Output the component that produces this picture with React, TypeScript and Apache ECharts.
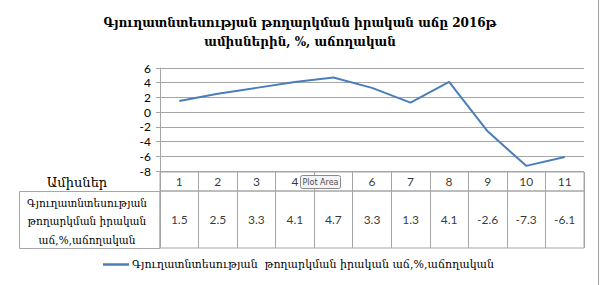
import React, { useEffect, useRef } from "react";
import * as echarts from "echarts";

const months = ["1", "2", "3", "4", "5", "6", "7", "8", "9", "10", "11"];
const growth = [1.5, 2.5, 3.3, 4.1, 4.7, 3.3, 1.3, 4.1, -2.6, -7.3, -6.1];
const seriesName = "Գյուղատնտեսության  թողարկման իրական աճ,%,աճողական";
const titleText = "Գյուղատնտեսության թողարկման իրական աճը 2016թ\nամիսներին, %, աճողական";
const headerLabel = "Ամիսներ";
const rowLabel = "Գյուղատնտեսության\nթողարկման իրական\nաճ,%,աճողական";

const ARM = "DejaVu Serif";
const NUM = "Lato";
const GRID_LEFT = 160;
const GRID_RIGHT = 16;

export default function App() {
  const ref = useRef<HTMLDivElement>(null);
  useEffect(() => {
    if (!ref.current) return;
    const chart = echarts.init(ref.current, undefined, { renderer: "svg" });
    const grey = "#a6a6a6";
    chart.setOption({
      animation: false,
      backgroundColor: "#fff",
      title: {
        text: titleText,
        left: "center",
        top: 8,
        textStyle: {
          fontFamily: ARM,
          fontWeight: "bold",
          fontSize: 12,
          lineHeight: 19,
          color: "#000",
        },
      },
      legend: {
        data: [seriesName],
        bottom: 10,
        left: 98,
        icon: "rect",
        itemWidth: 26,
        itemHeight: 2.5,
        itemGap: 4,
        textStyle: { fontFamily: ARM, fontSize: 11, color: "#000", padding: [0, 0, 0, -2] },
      },
      grid: [
        { left: GRID_LEFT, right: GRID_RIGHT, top: 68, height: 103 },
        {
          left: GRID_LEFT, right: GRID_RIGHT, top: 172, height: 19,
          show: true, borderColor: grey, borderWidth: 1,
        },
        {
          left: GRID_LEFT, right: GRID_RIGHT, top: 191, height: 57,
          show: true, borderColor: grey, borderWidth: 1,
        },
      ],
      xAxis: [
        {
          gridIndex: 0, type: "category", data: months, boundaryGap: true,
          axisLabel: { show: false }, axisTick: { show: false },
          axisLine: { show: true, lineStyle: { color: grey } },
        },
        {
          gridIndex: 1, type: "category", data: months, boundaryGap: true,
          axisLabel: { show: false }, axisTick: { show: false }, axisLine: { show: false },
          splitLine: { show: true, lineStyle: { color: grey, width: 1 } },
        },
        {
          gridIndex: 2, type: "category", data: months, boundaryGap: true,
          axisLabel: { show: false }, axisTick: { show: false }, axisLine: { show: false },
          splitLine: { show: true, lineStyle: { color: grey, width: 1 } },
        },
      ],
      yAxis: [
        {
          gridIndex: 0, type: "value", min: -8, max: 6, interval: 2,
          axisLine: { show: true, lineStyle: { color: grey } },
          axisTick: { show: true, length: 4, lineStyle: { color: grey } },
          splitLine: { show: true, lineStyle: { color: grey, width: 1 } },
          axisLabel: { fontFamily: NUM, fontSize: 12, color: "#000", margin: 9 },
        },
        { gridIndex: 1, type: "value", min: 0, max: 1, show: false },
        { gridIndex: 2, type: "value", min: 0, max: 1, show: false },
      ],
      series: [
        {
          name: seriesName,
          type: "line",
          xAxisIndex: 0, yAxisIndex: 0,
          data: growth,
          symbol: "none",
          showSymbol: false,
          lineStyle: { color: "#4A7EBB", width: 2 },
          itemStyle: { color: "#4A7EBB" },
        },
        {
          type: "scatter", xAxisIndex: 1, yAxisIndex: 1,
          data: months.map((m) => [m, 0.5]),
          symbolSize: 1, itemStyle: { color: "transparent" }, silent: true,
          label: {
            show: true, position: "inside", color: "#000",
            fontFamily: NUM, fontSize: 12,
            formatter: (p: any) => months[p.dataIndex],
          },
        },
        {
          type: "scatter", xAxisIndex: 2, yAxisIndex: 2,
          data: growth.map((v, i) => [months[i], 0.5, v]),
          symbolSize: 1, itemStyle: { color: "transparent" }, silent: true,
          label: {
            show: true, position: "inside", color: "#000",
            fontFamily: NUM, fontSize: 12,
            formatter: (p: any) => String(p.data[2]),
          },
        },
      ],
      graphic: [
        {
          type: "rect", z: 10,
          shape: { x: 19.5, y: 191.5, width: GRID_LEFT - 19.5, height: 57 },
          style: { fill: "none", stroke: grey, lineWidth: 1 },
        },
        {
          type: "text", z: 10, x: 77, y: 182,
          style: {
            text: headerLabel, fontFamily: ARM, fontSize: 13, fill: "#000",
            align: "center", verticalAlign: "middle",
          },
        },
        {
          type: "text", z: 10, x: 87, y: 221,
          style: {
            text: rowLabel, fontFamily: ARM, fontSize: 10.5, lineHeight: 18.5, fill: "#000",
            align: "center", verticalAlign: "middle",
          },
        },
        {
          type: "line", z: 10,
          shape: { x1: 598.5, y1: 0, x2: 598.5, y2: 285 },
          style: { stroke: "#a0a0a0", lineWidth: 1 },
        },
        {
          type: "rect", z: 20,
          shape: { x: 300.5, y: 175.5, width: 40, height: 13, r: 2 },
          style: { fill: "#f3f5fa", stroke: "#8a8a8a", lineWidth: 1 },
        },
        {
          type: "text", z: 21, x: 320.5, y: 182,
          style: {
            text: "Plot Area", fontFamily: "DejaVu Sans", fontSize: 8, fill: "#4d4d4d",
            align: "center", verticalAlign: "middle",
          },
        },
      ],
    });
    return () => chart.dispose();
  }, []);
  return (
    <div
      ref={ref}
      style={{ position: "fixed", left: 0, top: 0, width: 600, height: 285 }}
    />
  );
}
